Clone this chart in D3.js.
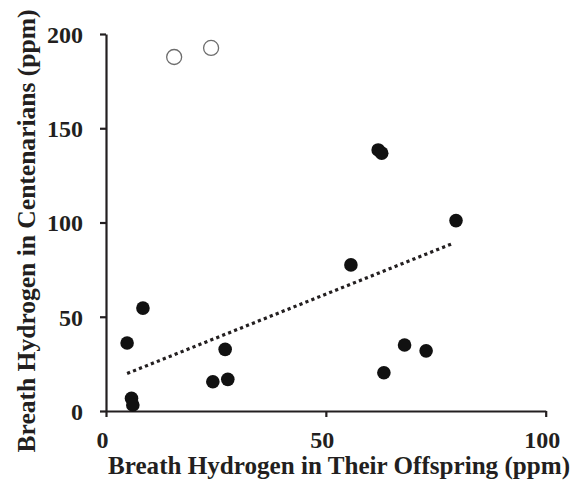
<!DOCTYPE html>
<html><head><meta charset="utf-8">
<script src="https://cdn.jsdelivr.net/npm/d3@7"></script>
<style>body{margin:0;background:#fff}svg{display:block}</style>
</head><body>
<svg id="c" width="576" height="484"></svg>
<script>
// Data (offspring ppm, centenarian ppm)
const filledX = [4.8, 8.4, 5.8, 6.1, 24.3, 27.7, 27.1, 55.7, 61.9, 62.7, 79.6, 67.9, 72.8, 63.2];
const filledY = [36.1, 54.6, 6.7, 3.2, 15.5, 16.8, 32.7, 77.5, 138.5, 136.8, 101, 35, 31.9, 20.3];
const openX = [15.5, 23.9];
const openY = [187.8, 192.6];
const trendX = [4.8, 78.9];
const trendY = [19.9, 88.9];
const xTicks = [0, 50, 100];
const yTicks = [0, 50, 100, 150, 200];
const xTitle = "Breath Hydrogen in Their Offspring (ppm)";
const yTitle = "Breath Hydrogen in Centenarians (ppm)";

const svg = d3.select("#c");
const ink = "#231f20";
const font = "Liberation Serif, Times New Roman, serif";
const x = d3.scaleLinear().domain([0, 100]).range([106, 545.7]);
const y = d3.scaleLinear().domain([0, 200]).range([411, 34]);

// axes
const xAxis = svg.append("g").attr("transform", `translate(0,${y(0)})`)
  .call(d3.axisBottom(x).tickValues(xTicks).tickSize(6).tickSizeOuter(0));
const yAxis = svg.append("g").attr("transform", `translate(${x(0)},0)`)
  .call(d3.axisLeft(y).tickValues(yTicks).tickSize(6).tickSizeOuter(0).tickPadding(17));
[xAxis, yAxis].forEach(g => {
  g.attr("font-family", font).attr("font-size", 24);
  g.select(".domain").attr("stroke", ink).attr("stroke-width", 2.2);
  g.selectAll(".tick line").attr("stroke", ink).attr("stroke-width", 2.2);
  g.selectAll(".tick text").attr("fill", ink).attr("font-family", font)
    .attr("font-weight", "bold").attr("font-size", 24);
});
xAxis.selectAll(".tick text").attr("y", 37).attr("dy", 0).attr("dx", -4);
yAxis.selectAll(".tick text").attr("dy", "0.35em");

// trend line
svg.append("line")
  .attr("x1", x(trendX[0])).attr("y1", y(trendY[0]))
  .attr("x2", x(trendX[1])).attr("y2", y(trendY[1]))
  .attr("stroke", ink).attr("stroke-width", 3.2).attr("stroke-dasharray", "3.2,3.2");

// open circles
svg.append("g").selectAll("circle").data(openX.map((v, i) => [v, openY[i]])).join("circle")
  .attr("cx", d => x(d[0])).attr("cy", d => y(d[1])).attr("r", 7.5)
  .attr("fill", "#fff").attr("stroke", "#6d6d6d").attr("stroke-width", 1.3);

// filled circles
svg.append("g").selectAll("circle").data(filledX.map((v, i) => [v, filledY[i]])).join("circle")
  .attr("cx", d => x(d[0])).attr("cy", d => y(d[1])).attr("r", 6.8)
  .attr("fill", "#111");

// titles
svg.append("text").attr("x", 339).attr("y", 474).attr("text-anchor", "middle")
  .attr("font-family", font).attr("font-weight", "bold").attr("font-size", 25)
  .attr("fill", ink).attr("textLength", 462).attr("lengthAdjust", "spacingAndGlyphs").text(xTitle);
svg.append("text").attr("transform", "translate(35,231) rotate(-90)").attr("text-anchor", "middle")
  .attr("font-family", font).attr("font-weight", "bold").attr("font-size", 25)
  .attr("fill", ink).attr("textLength", 443).attr("lengthAdjust", "spacingAndGlyphs").text(yTitle);
</script>
</body></html>
